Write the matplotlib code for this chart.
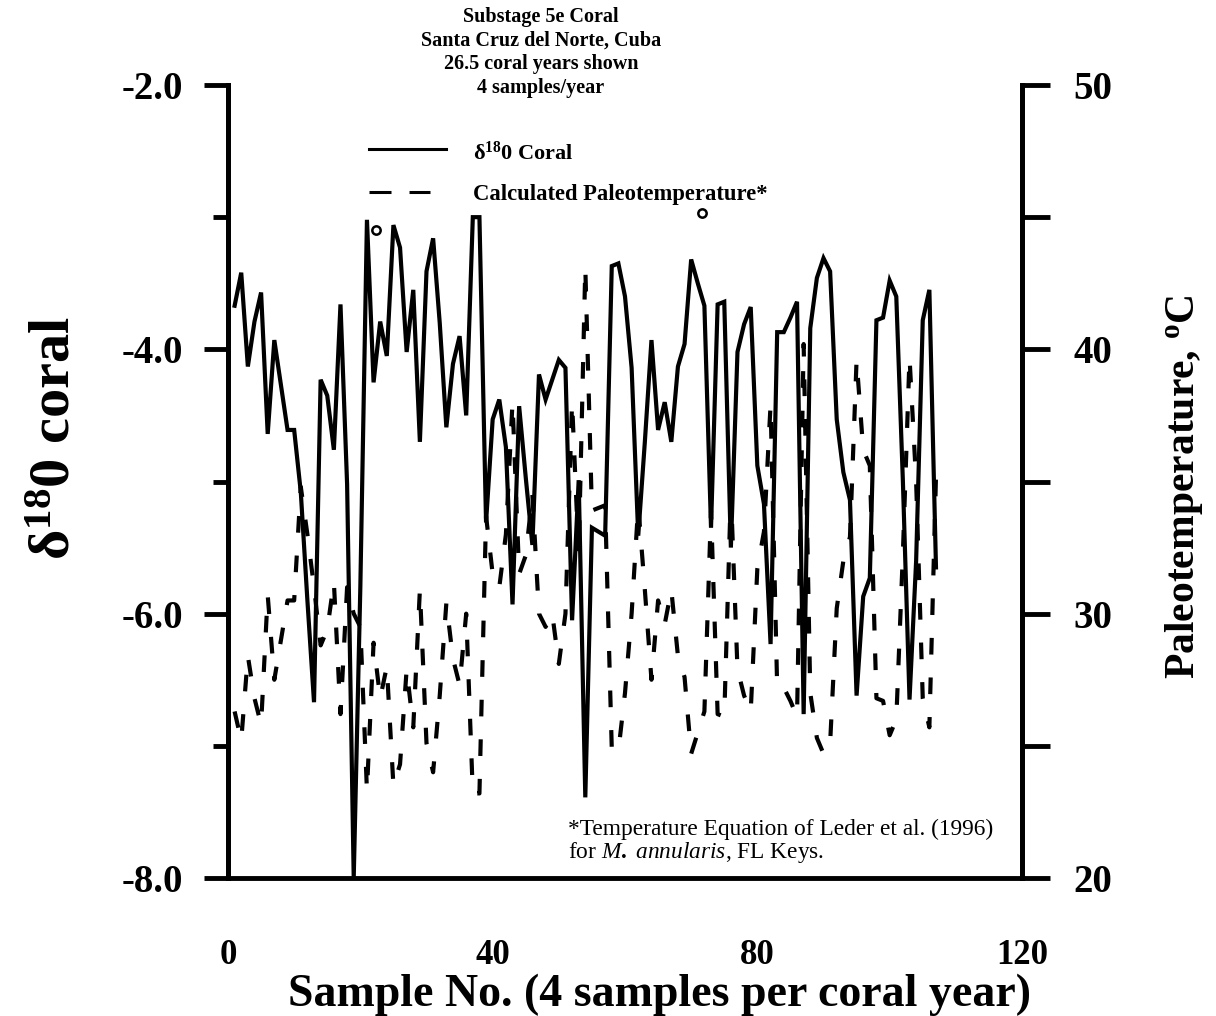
import matplotlib
matplotlib.use("Agg")
import matplotlib.pyplot as plt

plt.rcParams["font.family"] = ["Liberation Serif", "DejaVu Serif"]
plt.rcParams["font.weight"] = "bold"
plt.rcParams["mathtext.fontset"] = "custom"
plt.rcParams["mathtext.rm"] = "Liberation Serif:weight=bold"
plt.rcParams["mathtext.it"] = "Liberation Serif:style=italic:weight=normal"
plt.rcParams["mathtext.bf"] = "Liberation Serif:weight=bold"

# sample number, 4 samples per coral year
samples = list(range(1, 108))

# delta 18O of the coral (per mil)
d18o = [
    -3.67, -3.42, -4.13, -3.79, -3.57, -4.64, -3.93, -4.27, -4.61, -4.61,
    -5.08, -5.90, -6.67, -4.23, -4.35, -4.76, -3.66, -5.02, -8.00, -5.80,
    -3.02, -4.25, -3.79, -4.05, -3.06, -3.23, -4.02, -3.55, -4.70, -3.41,
    -3.16, -3.80, -4.59, -4.11, -3.90, -4.50, -3.00, -3.00, -5.31, -4.53,
    -4.38, -4.74, -5.93, -4.43, -4.97, -5.48, -4.19, -4.38, -4.23, -4.08,
    -4.14, -6.05, -4.99, -7.39, -5.35, -5.38, -5.41, -3.37, -3.35, -3.60,
    -4.14, -5.41, -4.70, -3.93, -4.61, -4.40, -4.70, -4.13, -3.96, -3.32,
    -3.50, -3.67, -5.35, -3.66, -3.64, -5.50, -4.02, -3.81, -3.68, -4.88,
    -5.17, -6.23, -3.87, -3.87, -3.76, -3.64, -6.76, -3.84, -3.46, -3.31,
    -3.41, -4.53, -4.93, -5.14, -6.62, -5.87, -5.73, -3.78, -3.76, -3.48,
    -3.60, -5.00, -6.65, -5.60, -3.78, -3.55, -5.65,
]

# calculated paleotemperature (deg C)
temps = [
    26.3, 25.2, 28.4, 26.8, 25.8, 30.7, 27.5, 29.0, 30.5, 30.5,
    34.8, 33.0, 31.0, 28.8, 29.4, 31.2, 26.2, 31.0, 30.0, 29.5,
    23.3, 28.9, 26.8, 28.0, 23.5, 24.3, 27.9, 25.7, 30.9, 25.1,
    24.0, 26.9, 30.4, 28.3, 27.3, 30.0, 23.2, 23.2, 33.7, 31.5,
    31.0, 33.0, 38.0, 31.5, 32.2, 34.5, 30.0, 29.5, 30.0, 28.1,
    30.0, 38.0, 32.2, 43.1, 33.9, 34.0, 34.1, 24.9, 24.8, 27.0,
    30.0, 34.1, 30.9, 27.5, 30.5, 29.6, 30.9, 28.4, 27.6, 24.7,
    25.5, 26.3, 33.9, 26.2, 26.1, 34.6, 27.9, 26.9, 26.3, 31.7,
    33.1, 37.9, 27.2, 27.2, 26.7, 26.1, 40.2, 27.0, 25.3, 24.7,
    25.1, 30.2, 32.0, 32.9, 39.6, 36.2, 35.6, 26.8, 26.7, 25.4,
    26.0, 32.3, 39.7, 35.0, 26.8, 25.7, 35.2,
]

# two small open circles printed above the curve
circle_x = [22.3, 71.7]
circle_y = [-3.10, -2.97]

left_ticks = [-8.0, -6.0, -4.0, -2.0]
left_labels = ["-8.0", "-6.0", "-4.0", "-2.0"]
right_ticks = [20, 30, 40, 50]
x_ticks = [0, 40, 80, 120]

title_lines = ["Substage 5e Coral", "Santa Cruz del Norte, Cuba",
               "26.5 coral years shown", "4 samples/year"]

W, H = 1216, 1016
fig = plt.figure(figsize=(W / 100, H / 100), dpi=100)
ax = fig.add_axes([228 / W, 1 - 878 / H, (1022 - 228) / W, (878 - 85) / H])
ax2 = ax.twinx()

ax.plot(samples, d18o, color="black", lw=3.0, solid_joinstyle="miter")
ax2.plot(samples, temps, color="black", lw=3.0, linestyle=(0, (4, 5.5)),
         dash_capstyle="butt")
ax.plot(circle_x, circle_y, "o", ms=6, mfc="white", mec="black", mew=1.8)

ax.set_xlim(0, 120)
ax.set_ylim(-8, -2)
ax2.set_ylim(20, 50)

for a in (ax, ax2):
    a.spines["top"].set_visible(False)
    for s in ("left", "right", "bottom"):
        a.spines[s].set_linewidth(3.5)
ax2.spines["bottom"].set_visible(False)

ax.set_xticks(x_ticks)
ax.set_xticklabels([str(t) for t in x_ticks], fontsize=25, fontweight="bold")
ax.tick_params(axis="x", which="both", direction="out", length=0, pad=44)

ax.set_yticks(left_ticks)
ax.set_yticks([-7, -5, -3], minor=True)
ax.set_yticklabels(left_labels, fontsize=28, fontweight="bold")
ax.tick_params(axis="y", which="major", direction="out", length=17, width=3.5, pad=15)
ax.tick_params(axis="y", which="minor", direction="out", length=11, width=3.5)

ax2.set_yticks(right_ticks)
ax2.set_yticks([25, 35, 45], minor=True)
ax2.set_yticklabels([str(t) for t in right_ticks], fontsize=28, fontweight="bold")
ax2.tick_params(axis="y", which="both", direction="out", length=20, width=3.5, pad=17)

ax.set_xlabel("Sample No. (4 samples per coral year)", fontsize=33,
              fontweight="bold")
ax.xaxis.set_label_coords(0.544, -0.1205)
ax.set_ylabel("δ$^{18}$0 coral", fontsize=42, fontweight="bold")
ax.yaxis.set_label_coords(-0.185, 0.555)
ax2.set_ylabel("Paleotemperature, $^{\\mathrm{o}}$C", fontsize=30,
               fontweight="bold")
ax2.yaxis.set_label_coords(1.178, 0.493)

for i, line in enumerate(title_lines):
    fig.text(541 / W, 1 - (17 + 23.5 * i) / H, line, ha="center", va="center",
             fontsize=14.5, fontweight="bold")

# legend drawn by hand, as in the original figure
ax.plot([0.177, 0.274], [0.919, 0.919], transform=ax.transAxes, color="black", lw=2.2)
ax.plot([0.177, 0.255], [0.865, 0.865], transform=ax.transAxes, color="black",
        lw=2.2, linestyle=(0, (7.2, 5.9)))
ax.text(0.308, 0.914, "δ$^{18}$0 Coral", transform=ax.transAxes,
        fontsize=16, fontweight="bold", va="center")
ax.text(0.308, 0.862, "Calculated Paleotemperature*", transform=ax.transAxes,
        fontsize=16.3, fontweight="bold", va="center")

ax.text(0.428, 0.061, "*Temperature Equation of Leder et al. (1996)",
        transform=ax.transAxes, fontsize=16.8, fontweight="normal", va="center")
ax.text(0.428, 0.032, "for $\\mathit{M.\\ annularis}$, FL Keys.",
        transform=ax.transAxes, fontsize=16.8, fontweight="normal", va="center")

fig.savefig("out.png", dpi=100)
